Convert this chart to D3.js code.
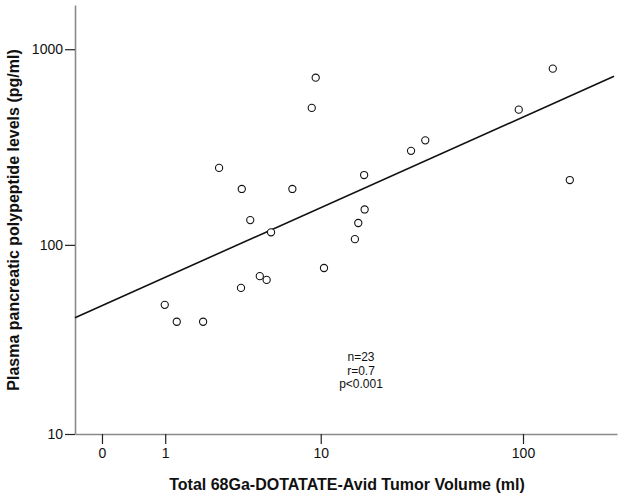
<!DOCTYPE html>
<html>
<head>
<meta charset="utf-8">
<script src="https://cdn.jsdelivr.net/npm/d3@7"></script>
<style>
  html, body { margin: 0; padding: 0; background: #fff; }
  svg { display: block; }
  text { font-family: Arial, "Liberation Sans", sans-serif; fill: #111; }
</style>
</head>
<body>
<svg id="chart" width="621" height="496"></svg>
<script>
// Tumor volume (ml) and plasma PP level (pg/ml)
const tumorVolume = [2.61, 3.63, 7.06, 4.08, 5.38, 10.4, 4.64, 5.08, 3.59, 0.99, 1.27, 2.03,
                     9.41, 8.97, 139, 95.4, 33.6, 28.6, 16.7, 167.7, 16.8, 15.6, 15.0];
const ppLevel     = [248, 193.5, 193.5, 134, 116, 76, 69, 66, 60, 49, 40, 40,
                     716, 502, 796, 492, 343, 303, 228, 215, 152, 129.5, 107];
const xTicks = [0, 1, 10, 100];
const yTicks = [10, 100, 1000];
const xExtent = [-0.256, 282];
const yExtent = [10, 1680];
// regression line in log10(v+1) space: log10(y+1) = a + b*log10(x+1)
const fitIntercept = 1.6952;
const fitSlope = 0.4789;
const fitXRange = [-0.256, 273];
const stats = ["n=23", "r=0.7", "p<0.001"];

const tf = v => Math.log10(v + 1);
const svg = d3.select("#chart");

const x = d3.scaleLinear().domain(xExtent.map(tf)).range([75, 617]);
const y = d3.scaleLinear().domain(yExtent.map(tf)).range([434, 5]);

// axes
const gx = svg.append("g").attr("transform", "translate(0,434)")
  .call(d3.axisBottom(x).tickValues(xTicks.map(tf)).tickFormat((d, i) => xTicks[i])
        .tickSize(10).tickSizeOuter(0).tickPadding(4));
const gy = svg.append("g").attr("transform", "translate(75,0)")
  .call(d3.axisLeft(y).tickValues(yTicks.map(tf)).tickFormat((d, i) => yTicks[i])
        .tickSize(10).tickSizeOuter(0).tickPadding(2));
[gx, gy].forEach(g => {
  g.select(".domain").attr("stroke", "#8a8a8a").attr("stroke-width", 1.6);
  g.selectAll(".tick line").attr("stroke", "#222").attr("stroke-width", 1.2);
  g.selectAll(".tick text").attr("font-size", 14).attr("fill", "#111")
    .attr("font-family", "Arial, 'Liberation Sans', sans-serif");
});

// regression line
const fitLine = d3.line().x(d => x(tf(d))).y(d => y(fitIntercept + fitSlope * tf(d)));
svg.append("path").datum(fitXRange).attr("d", fitLine)
  .attr("fill", "none").attr("stroke", "#111").attr("stroke-width", 1.6);

// points
svg.append("g").selectAll("circle").data(tumorVolume).join("circle")
  .attr("cx", d => x(tf(d)))
  .attr("cy", (d, i) => y(tf(ppLevel[i])))
  .attr("r", 3.6)
  .attr("fill", "#fff").attr("stroke", "#111").attr("stroke-width", 1.1);

// stats text
svg.append("g").selectAll("text").data(stats).join("text")
  .attr("x", 361).attr("y", (d, i) => 361 + i * 13.5)
  .attr("text-anchor", "middle").attr("font-size", 12)
  .attr("font-family", "'Liberation Sans Narrow', 'Arial Narrow', Arial, sans-serif")
  .text(d => d);

// axis titles
svg.append("text").attr("x", 347).attr("y", 490).attr("text-anchor", "middle")
  .attr("font-size", 16).attr("font-weight", "bold")
  .text("Total 68Ga-DOTATATE-Avid Tumor Volume (ml)");
svg.append("text").attr("transform", "translate(19,220) rotate(-90)")
  .attr("text-anchor", "middle").attr("font-size", 16).attr("font-weight", "bold")
  .text("Plasma pancreatic polypeptide levels (pg/ml)");
</script>
</body>
</html>
